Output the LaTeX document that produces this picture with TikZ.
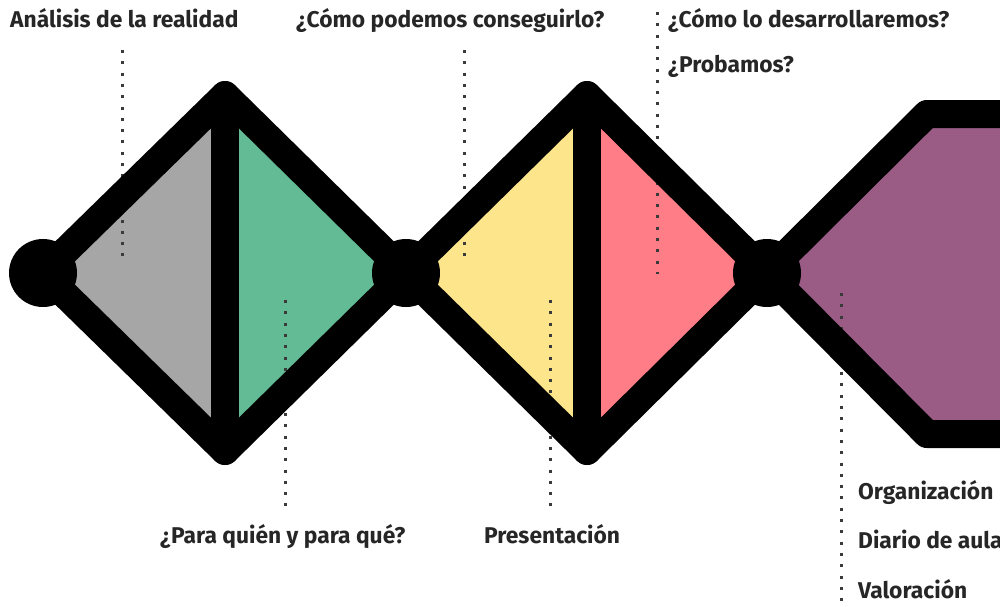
\documentclass[tikz,border=0pt]{standalone}
\usepackage{fontspec}
\setmainfont{Fira Sans}
\definecolor{cgray}{HTML}{A6A6A6}
\definecolor{cgreen}{HTML}{62BB94}
\definecolor{cyellow}{HTML}{FDE58C}
\definecolor{cpink}{HTML}{FF7D87}
\definecolor{cpurple}{HTML}{9A5C85}
\definecolor{ctext}{HTML}{262626}
\definecolor{cdot}{HTML}{3A3A3A}
\begin{document}
\begin{tikzpicture}[x=1pt,y=-1pt,
  outline/.style={line width=28pt,line join=round,line cap=round,draw=black},
  hub/.style={circle,fill=black,minimum size=68pt,inner sep=0pt},
  dotline/.style={draw=cdot,line width=3pt,dash pattern=on 3pt off 8.3pt},
  lbl/.style={anchor=base west,inner sep=0pt,font=\bfseries\fontsize{22.8}{26}\selectfont,text=ctext}]
\clip (0,0) rectangle (1000,606);
\fill[white] (0,0) rectangle (1000,606);
% key points
\coordinate (L1) at (43,273);
\coordinate (T1) at (225,95);
\coordinate (R1) at (406,273);
\coordinate (B1) at (225,451);
\coordinate (T2) at (587,95);
\coordinate (R2) at (767,273);
\coordinate (B2) at (587,451);
\coordinate (HT) at (927,114);
\coordinate (HB) at (927,434);
\coordinate (HTR) at (1100,114);
\coordinate (HBR) at (1100,434);
% fills
\fill[cgray] (L1) -- (T1) -- (B1) -- cycle;
\fill[cgreen] (T1) -- (R1) -- (B1) -- cycle;
\fill[cyellow] (R1) -- (T2) -- (B2) -- cycle;
\fill[cpink] (T2) -- (R2) -- (B2) -- cycle;
\fill[cpurple] (R2) -- (HT) -- (HTR) -- (HBR) -- (HB) -- cycle;
% labels
\node[lbl] (a1) at (10,27) {Análisis de la realidad};
\node[lbl] (a2) at (296,27) {¿Cómo podemos conseguirlo?};
\node[lbl] (a3) at (668,27) {¿Cómo lo desarrollaremos?};
\node[lbl] (a4) at (668,72) {¿Probamos?};
\node[lbl] (b1) at (160,543) {¿Para quién y para qué?};
\node[lbl] (b2) at (484,543) {Presentación};
\node[lbl] (c1) at (858,499) {Organización};
\node[lbl] (c2) at (858,548) {Diario de aula};
\node[lbl] (c3) at (858,598) {Valoración};
% dotted leaders
\coordinate (d1a) at (122,50);  \coordinate (d1b) at (122,257);
\coordinate (d2a) at (464,50);  \coordinate (d2b) at (464,264);
\coordinate (d3a) at (657,12);  \coordinate (d3b) at (657,274);
\coordinate (d4a) at (285,300); \coordinate (d4b) at (285,511);
\coordinate (d5a) at (550,300); \coordinate (d5b) at (550,514);
\coordinate (d6a) at (841,293); \coordinate (d6b) at (841,610);
\draw[dotline] (d1a) -- (d1b);
\draw[dotline] (d2a) -- (d2b);
\draw[dotline] (d3a) -- (d3b);
\draw[dotline] (d4a) -- (d4b);
\draw[dotline] (d5a) -- (d5b);
\draw[dotline] (d6a) -- (d6b);
% outlines
\draw[outline] (L1) -- (T1) -- (R1) -- (B1) -- cycle;
\draw[outline] (T1) -- (B1);
\draw[outline] (R1) -- (T2) -- (R2) -- (B2) -- cycle;
\draw[outline] (T2) -- (B2);
\draw[outline] (HTR) -- (HT) -- (R2) -- (HB) -- (HBR);
% hubs
\node[hub] (h1) at (L1) {};
\node[hub] (h2) at (R1) {};
\node[hub] (h3) at (R2) {};
\end{tikzpicture}
\end{document}
